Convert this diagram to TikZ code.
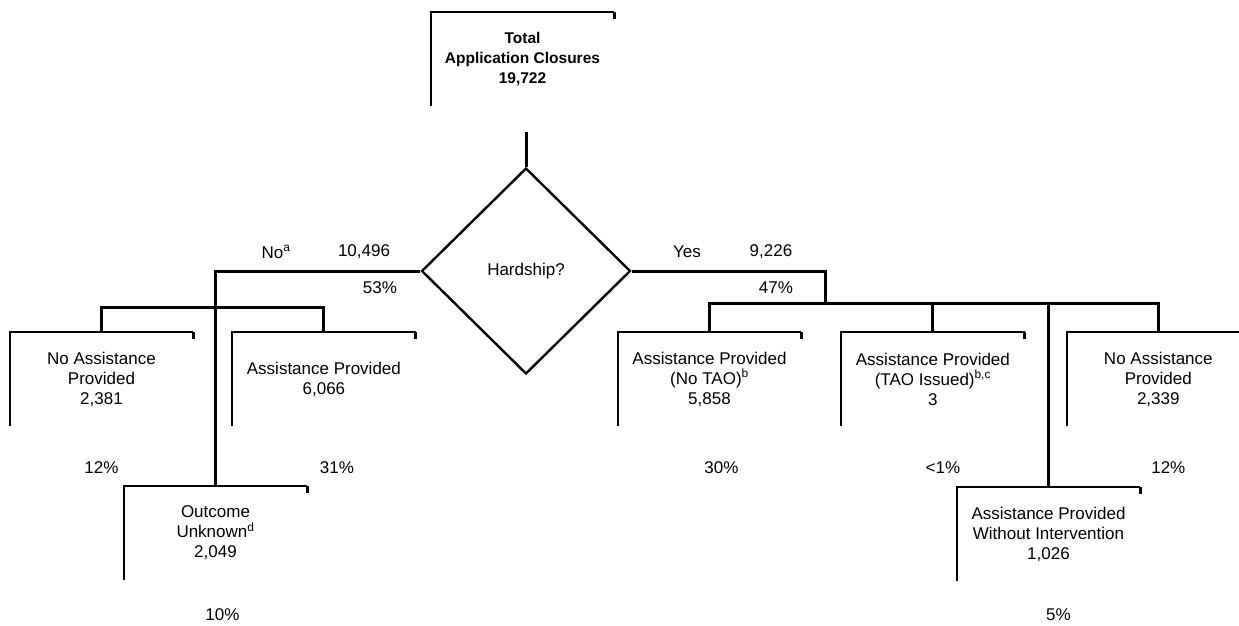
\documentclass[tikz,border=0pt]{standalone}
\usepackage{fontspec}
\setmainfont{Liberation Sans}
\usetikzlibrary{positioning,shapes.geometric}

\begin{document}
\begin{tikzpicture}[
  x=1pt, y=-1pt,
  every node/.style={font=\fontsize{17pt}{20pt}\selectfont},
  outcome/.style={minimum width=183pt, minimum height=94pt, inner sep=0pt, align=center},
  decision/.style={diamond, draw, line width=2.4pt, minimum width=209pt, minimum height=206pt, inner sep=0pt},
  frame/.style={line width=1.8pt},
  hook/.style={line width=3pt},
  branch/.style={line width=3pt},
  share/.style={inner sep=2pt}
]
  \useasboundingbox (0,0) rectangle (1239,625);

  % top of the tree
  \node[outcome, font=\fontsize{15.5pt}{20pt}\selectfont\bfseries] (total) at (522.5,59) {Total\\Application Closures\\19,722};
  \coordinate (stem) at (526,132);
  \node[decision] (hard) at (526,271) {Hardship?};

  % no branch
  \node (nolab) at (276,252) {No\textsuperscript{a}};
  \node (nonum) at (364,252) {10,496};
  \node (nopct) at (380,288) {53\%};
  \node[outcome] (noa1) at (101.5,379) {No Assistance\\Provided\\2,381};
  \node[outcome, right=39pt of noa1] (ap1) {Assistance Provided\\6,066};
  \node[outcome] (unk) at (215.5,533) {Outcome\\Unknown\textsuperscript{d}\\2,049};
  \node[share, below=33pt of noa1] (noa1p) {12\%};
  \node[share, below=33pt of ap1, xshift=13pt] (ap1p) {31\%};
  \node[share, below=26pt of unk, xshift=7pt] (unkp) {10\%};

  % yes branch
  \node (yeslab) at (687,252) {Yes};
  \node (yesnum) at (771,252) {9,226};
  \node (yespct) at (776,288) {47\%};
  \node[outcome] (apA) at (709.5,379) {Assistance Provided\\(No TAO)\textsuperscript{b}\\5,858};
  \node[outcome, right=40pt of apA] (apB) {Assistance Provided\\(TAO Issued)\textsuperscript{b,c}\\3};
  \node[outcome, right=42pt of apB] (napC) {No Assistance\\Provided\\2,339};
  \node[outcome] (wout) at (1048.5,534) {Assistance Provided\\Without Intervention\\1,026};
  \node[share, below=33pt of apA, xshift=12pt] (apAp) {30\%};
  \node[share, below=33pt of apB, xshift=10pt] (apBp) {<1\%};
  \node[share, below=33pt of napC, xshift=10pt] (napCp) {12\%};
  \node[share, below=25pt of wout, xshift=10pt] (woutp) {5\%};

  \coordinate (lfork) at (218,307);
  \coordinate (rfork) at (825,303);

  % connectors
  \draw[branch] (stem) -- (hard.north);
  \draw[branch] (hard.west) -| (unk.north);
  \draw[branch] (noa1.north) |- (lfork) -| (ap1.north);
  \draw[branch] (hard.east) -| (rfork);
  \draw[branch] (apA.north) |- (rfork) -| (napC.north);
  \draw[branch] (apB.north) -- (apB.north |- rfork);
  \draw[branch] (wout.north) -- (wout.north |- rfork);

  % open boxes
  \foreach \b in {total,noa1,ap1,unk,apA,apB,napC,wout}{
    \draw[frame] (\b.south west) -- (\b.north west) -- (\b.north east);
    \draw[hook] (\b.north east) -- ++(0,7);
  }
\end{tikzpicture}
\end{document}
